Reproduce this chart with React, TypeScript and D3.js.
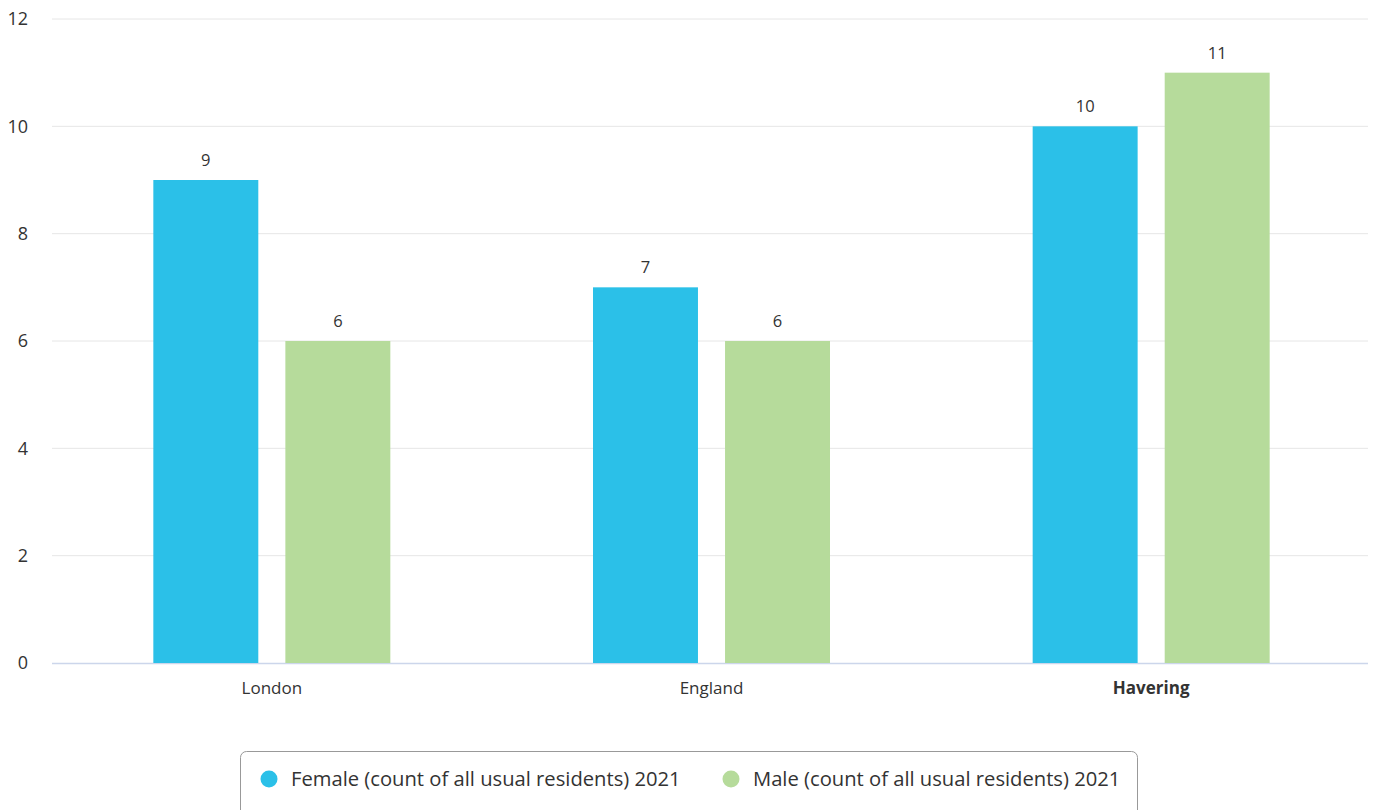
import React from "react";
import * as d3 from "d3";

const categories = ["London", "England", "Havering"];
const seriesNames = ["Female (count of all usual residents) 2021", "Male (count of all usual residents) 2021"];
const femaleValues = [9, 7, 10];
const maleValues = [6, 6, 11];
const yTicks = [0, 2, 4, 6, 8, 10, 12];
const colors = ["#2bc0e8", "#b6db9b"];

const W = 1375, H = 810;
const M = { left: 52, right: 1368, top: 19, bottom: 663 };

export default function App() {
  const x0 = d3.scaleBand<string>().domain(categories).range([M.left, M.right + 3]);
  const y = d3.scaleLinear().domain([0, 12]).range([M.bottom, M.top]);
  const x1 = d3.scaleBand<number>().domain([0, 1]).range([0, 237]).paddingInner(0.205).paddingOuter(0);
  const series = [femaleValues, maleValues];
  const font = "'Open Sans', sans-serif";
  return (
    <svg width={W} height={H} style={{ position: "absolute", left: 0, top: 0, fontFamily: font }}>
      {yTicks.map((t) => (
        <g key={t}>
          {t !== 0 && <line x1={M.left} x2={M.right} y1={y(t)} y2={y(t)} stroke="#e6e6e6" strokeWidth={1} />}
          <text x={28} y={y(t)} dy="0.35em" textAnchor="end" fontSize={18} fill="#333">{t}</text>
        </g>
      ))}
      <line x1={M.left} x2={M.right} y1={M.bottom + 0.5} y2={M.bottom + 0.5} stroke="#ccd6eb" strokeWidth={1.5} />
      {categories.map((c, i) => {
        const center = (x0(c) as number) + x0.bandwidth() / 2;
        const start = center - 118.5;
        return (
          <g key={c}>
            {series.map((vals, s) => {
              const bx = start + (x1(s) as number);
              const v = vals[i];
              return (
                <g key={s}>
                  <rect x={bx} y={y(v)} width={x1.bandwidth()} height={M.bottom - y(v)} fill={colors[s]} />
                  <text x={bx + x1.bandwidth() / 2} y={y(v) - 14} textAnchor="middle" fontSize={16.5} fill="#333">{v}</text>
                </g>
              );
            })}
            <text x={center} y={694} textAnchor="middle" fontSize={17} fill="#333" fontWeight={c === "Havering" ? 700 : 400}>{c}</text>
          </g>
        );
      })}
      <rect x={240.5} y={751.5} width={897} height={70} rx={6} fill="none" stroke="#999" strokeWidth={1} />
      {seriesNames.map((n, s) => {
        const lx = s === 0 ? 269 : 731;
        return (
          <g key={n}>
            <circle cx={lx} cy={779} r={8.5} fill={colors[s]} />
            <text x={lx + 22} y={779} dy="0.35em" fontSize={20.2} fill="#333">{n}</text>
          </g>
        );
      })}
    </svg>
  );
}
